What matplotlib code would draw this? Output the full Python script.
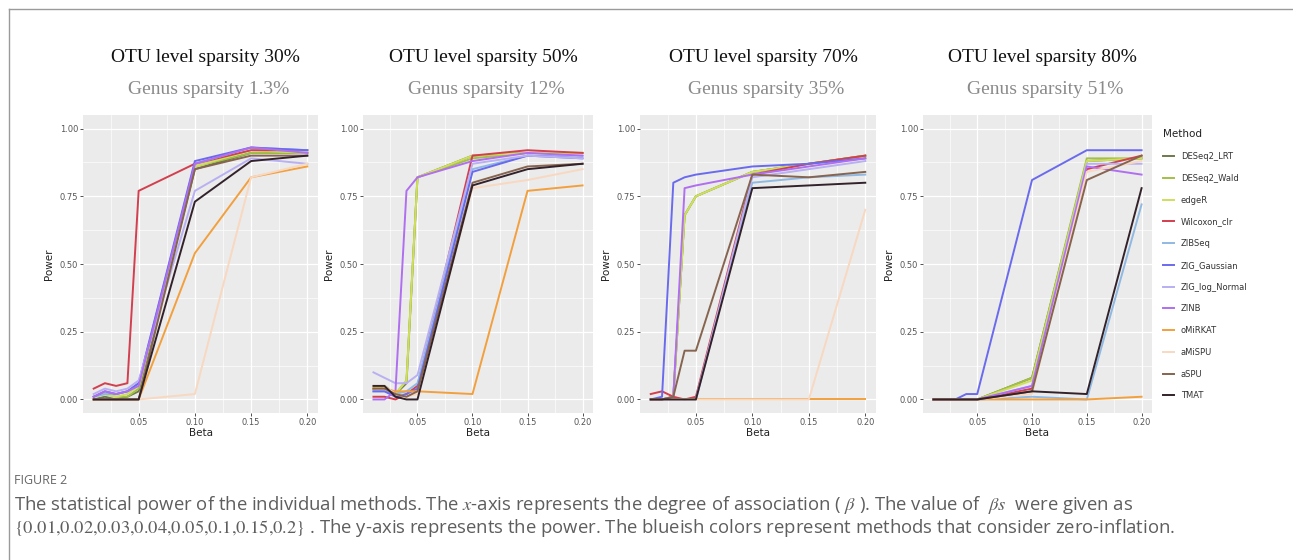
import matplotlib
matplotlib.use("Agg")
import matplotlib.pyplot as plt
from matplotlib.lines import Line2D
import numpy as np

plt.rcParams['mathtext.fontset'] = 'stix'

betas = [0.01, 0.02, 0.03, 0.04, 0.05, 0.10, 0.15, 0.20]

methods = ["DESeq2_LRT", "DESeq2_Wald", "edgeR", "Wilcoxon_clr", "ZIBSeq",
           "ZIG_Gaussian", "ZIG_log_Normal", "ZINB", "oMiRKAT", "aMiSPU",
           "aSPU", "TMAT"]
colors = ["#6e7a4a", "#a2c048", "#cfdf5c", "#d23f4e", "#8fb9e2", "#6a6aee",
          "#b8b0f2", "#b06ef0", "#f2a03e", "#f8d8c0", "#86644f", "#33222a"]

otu_titles = ["OTU level sparsity 30%", "OTU level sparsity 50%",
              "OTU level sparsity 70%", "OTU level sparsity 80%"]
genus_titles = ["Genus sparsity 1.3%", "Genus sparsity 12%",
                "Genus sparsity 35%", "Genus sparsity 51%"]

# power per method (rows follow `methods`), columns follow `betas`
power_30 = [
    [0.00, 0.01, 0.00, 0.01, 0.03, 0.85, 0.91, 0.91],
    [0.01, 0.02, 0.01, 0.01, 0.04, 0.86, 0.91, 0.91],
    [0.01, 0.02, 0.01, 0.02, 0.05, 0.86, 0.92, 0.91],
    [0.04, 0.06, 0.05, 0.06, 0.77, 0.87, 0.92, 0.92],
    [0.01, 0.02, 0.02, 0.03, 0.06, 0.87, 0.93, 0.92],
    [0.01, 0.03, 0.02, 0.03, 0.06, 0.88, 0.93, 0.92],
    [0.02, 0.04, 0.03, 0.04, 0.07, 0.77, 0.89, 0.87],
    [0.01, 0.03, 0.02, 0.03, 0.05, 0.87, 0.93, 0.91],
    [0.00, 0.00, 0.00, 0.00, 0.00, 0.54, 0.82, 0.86],
    [0.00, 0.00, 0.00, 0.00, 0.00, 0.02, 0.82, 0.87],
    [0.00, 0.00, 0.00, 0.00, 0.00, 0.85, 0.90, 0.90],
    [0.00, 0.00, 0.00, 0.00, 0.00, 0.73, 0.88, 0.90],
]
power_50 = [
    [0.04, 0.05, 0.02, 0.06, 0.82, 0.90, 0.91, 0.91],
    [0.04, 0.05, 0.02, 0.07, 0.82, 0.89, 0.91, 0.91],
    [0.04, 0.05, 0.02, 0.07, 0.82, 0.90, 0.91, 0.91],
    [0.01, 0.01, 0.00, 0.02, 0.05, 0.90, 0.92, 0.91],
    [0.03, 0.03, 0.02, 0.03, 0.06, 0.85, 0.90, 0.90],
    [0.03, 0.03, 0.01, 0.02, 0.04, 0.84, 0.90, 0.89],
    [0.10, 0.08, 0.06, 0.06, 0.09, 0.87, 0.90, 0.89],
    [0.00, 0.00, 0.03, 0.77, 0.82, 0.88, 0.91, 0.90],
    [0.04, 0.04, 0.03, 0.03, 0.03, 0.02, 0.77, 0.79],
    [0.05, 0.05, 0.02, 0.01, 0.02, 0.78, 0.81, 0.85],
    [0.04, 0.04, 0.02, 0.01, 0.03, 0.80, 0.86, 0.87],
    [0.05, 0.05, 0.01, 0.00, 0.00, 0.79, 0.85, 0.87],
]
power_70 = [
    [0.00, 0.00, 0.01, 0.68, 0.75, 0.84, 0.87, 0.90],
    [0.00, 0.00, 0.01, 0.68, 0.75, 0.84, 0.87, 0.90],
    [0.00, 0.00, 0.01, 0.68, 0.75, 0.84, 0.87, 0.89],
    [0.02, 0.03, 0.01, 0.00, 0.01, 0.83, 0.87, 0.90],
    [0.00, 0.00, 0.00, 0.00, 0.00, 0.80, 0.82, 0.83],
    [0.00, 0.01, 0.80, 0.82, 0.83, 0.86, 0.87, 0.89],
    [0.00, 0.00, 0.00, 0.00, 0.00, 0.82, 0.85, 0.88],
    [0.00, 0.00, 0.01, 0.78, 0.79, 0.83, 0.86, 0.89],
    [0.00, 0.00, 0.00, 0.00, 0.00, 0.00, 0.00, 0.00],
    [0.00, 0.00, 0.00, 0.00, 0.00, 0.00, 0.00, 0.70],
    [0.00, 0.00, 0.01, 0.18, 0.18, 0.83, 0.82, 0.84],
    [0.00, 0.00, 0.00, 0.00, 0.00, 0.78, 0.79, 0.80],
]
power_80 = [
    [0.00, 0.00, 0.00, 0.00, 0.00, 0.08, 0.88, 0.89],
    [0.00, 0.00, 0.00, 0.00, 0.00, 0.08, 0.89, 0.89],
    [0.00, 0.00, 0.00, 0.00, 0.00, 0.07, 0.88, 0.89],
    [0.00, 0.00, 0.00, 0.00, 0.00, 0.04, 0.85, 0.90],
    [0.00, 0.00, 0.00, 0.00, 0.00, 0.01, 0.00, 0.72],
    [0.00, 0.00, 0.00, 0.02, 0.02, 0.81, 0.92, 0.92],
    [0.00, 0.00, 0.00, 0.00, 0.00, 0.05, 0.87, 0.87],
    [0.00, 0.00, 0.00, 0.00, 0.00, 0.05, 0.86, 0.83],
    [0.00, 0.00, 0.00, 0.00, 0.00, 0.00, 0.00, 0.01],
    [0.00, 0.00, 0.00, 0.00, 0.00, 0.02, 0.84, 0.88],
    [0.00, 0.00, 0.00, 0.00, 0.00, 0.03, 0.81, 0.90],
    [0.00, 0.00, 0.00, 0.00, 0.00, 0.03, 0.02, 0.78],
]
panels = [power_30, power_50, power_70, power_80]

W, H = 1293, 560
fig = plt.figure(figsize=(W / 100, H / 100), dpi=100)

# panel boxes in pixels: left, width
boxes = [(83, 235), (363, 230), (640, 236), (923, 229)]
top_px, bot_px = 115, 413

xmin, xmax = 0.01 - 0.0095, 0.20 + 0.0095
tick_col = "#555555"
handles = []
for k, (data, (lx, wd)) in enumerate(zip(panels, boxes)):
    ax = fig.add_axes([lx / W, 1 - bot_px / H, wd / W, (bot_px - top_px) / H])
    ax.set_facecolor("#ebebeb")
    for s in ax.spines.values():
        s.set_visible(False)
    ax.set_xlim(xmin, xmax)
    ax.set_ylim(-0.05, 1.05)
    ax.set_xticks([0.05, 0.10, 0.15, 0.20])
    ax.set_xticklabels(["0.05", "0.10", "0.15", "0.20"])
    ax.set_yticks([0, 0.25, 0.5, 0.75, 1.0])
    ax.set_yticklabels(["0.00", "0.25", "0.50", "0.75", "1.00"])
    ax.set_xticks([0.025, 0.075, 0.125, 0.175], minor=True)
    ax.set_yticks([0.125, 0.375, 0.625, 0.875], minor=True)
    ax.grid(which="major", color="white", lw=0.9)
    ax.grid(which="minor", color="white", lw=0.45)
    ax.set_axisbelow(True)
    ax.tick_params(which="major", length=2, width=0.6, color="#333333",
                   labelsize=6, labelcolor=tick_col, pad=1.5)
    ax.tick_params(which="minor", length=0)
    ax.set_xlabel("Beta", fontsize=7.5, color="#222222", labelpad=1)
    ax.set_ylabel("Power", fontsize=7.5, color="#222222", labelpad=4)

    for row, m, c in zip(data, methods, colors):
        ln, = ax.plot(betas, row, color=c, lw=1.4, label=m, solid_joinstyle="round")
        if k == 0:
            handles.append(ln)

    cx = lx + wd / 2
    fig.text((cx + 5) / W, 1 - 57 / H, otu_titles[k], ha="center", va="center",
             fontsize=14, family="Liberation Serif", color="#111111")
    fig.text((cx + 8) / W, 1 - 90 / H, genus_titles[k], ha="center", va="center",
             fontsize=14, family="Liberation Serif", color="#8a8a8a")

leg = fig.legend(handles=handles, labels=methods, loc="upper left",
                 bbox_to_anchor=(1160 / W, 1 - 126 / H), frameon=False,
                 title="Method", fontsize=6, title_fontsize=7.5,
                 handlelength=1.3, handletextpad=0.8, labelspacing=1.53,
                 borderaxespad=0)
leg._legend_box.align = "left"
for t in leg.get_texts():
    t.set_color("#333333")
leg.get_title().set_color("#222222")

# outer frame lines
fig.add_artist(Line2D([9 / W, 1], [1 - 9 / H, 1 - 9 / H], color="#9a9a9a", lw=1))
fig.add_artist(Line2D([9 / W, 9 / W], [0, 1 - 9 / H], color="#9a9a9a", lw=1))

cap_col = "#5e5e5e"
fig.text(14 / W, 1 - 480 / H, "FIGURE 2", ha="left", va="center",
         fontsize=9, color="#666666", family="Open Sans")
fig.text(14 / W, 1 - 505 / H,
         r"The statistical power of the individual methods. The $x$-axis represents "
         r"the degree of association ( $\beta$ ). The value of  $\beta s$  were given as",
         ha="left", va="center", fontsize=13.3, color=cap_col, family="Open Sans")
fig.text(14 / W, 1 - 528 / H,
         r"$\{0.01{,}0.02{,}0.03{,}0.04{,}0.05{,}0.1{,}0.15{,}0.2\}$ . The y-axis represents "
         r"the power. The blueish colors represent methods that consider zero-inflation.",
         ha="left", va="center", fontsize=13.3, color=cap_col, family="Open Sans")

fig.savefig("out.png", dpi=100)
